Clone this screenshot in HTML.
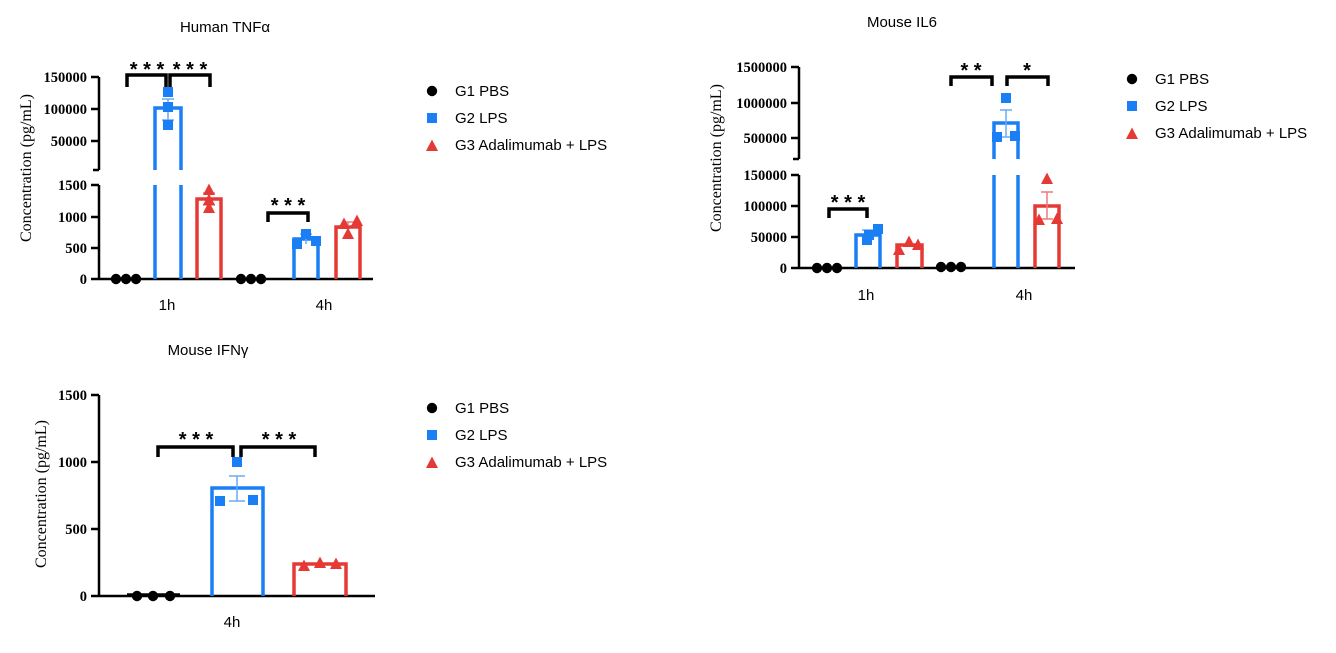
<!DOCTYPE html>
<html><head><meta charset="utf-8"><style>
html,body{margin:0;padding:0;background:#fff;}
.sans{font-family:"Liberation Sans",sans-serif;}
.ser{font-family:"Liberation Serif",serif;font-weight:bold;font-size:14.5px;}
</style></head><body>
<svg width="1336" height="648" viewBox="0 0 1336 648" xmlns="http://www.w3.org/2000/svg">
<defs>
<g id="sq"><rect x="-5" y="-5" width="10" height="10" fill="#1a7ff5"/></g>
<g id="tri"><polygon points="0,-6.5 6,5 -6,5" fill="#e53935"/></g>
<g id="dot"><circle r="5.2" fill="#000"/></g>
</defs>
<g stroke="#000" stroke-width="2.5" fill="none">
<path d="M99 77V170M91 77H99M91 109H99M91 141H99M93 170H99"/>
<path d="M99 185V279M91 185H99M91 217H99M91 248H99M91 279H373"/>
<path d="M799 67V159M791 67H799M791 103H799M791 138H799M793 159H799"/>
<path d="M799 175V268M791 175H799M791 206H799M791 237H799M791 268H1075"/>
<path d="M99 395V596M91 395H99M91 462H99M91 529H99M91 596H375"/>
<g stroke-width="3.5">
<path d="M127 87V75H166V87M170 87V75H210V87M268 222V213H308V222"/>
<path d="M829 218V209H867V218M951 86V77H992V86M1007 86V77H1048V86"/>
<path d="M158 457V447H233V457M241 457V447H315V457"/>
</g>
</g>
<g fill="none" stroke-width="3.5">
<path stroke="#1a7ff5" d="M155 170V108H181V170M155 185V279M181 185V279"/>
<path stroke="#e53935" d="M197 279V199H221V279"/>
<path stroke="#1a7ff5" d="M294 279V239H318V279"/>
<path stroke="#e53935" d="M336 279V227H360V279"/>
<path stroke="#1a7ff5" d="M856 268V235H880V268"/>
<path stroke="#e53935" d="M897 268V245H922V268"/>
<path stroke="#1a7ff5" d="M994 159V123H1018V159M994 175V268M1018 175V268"/>
<path stroke="#e53935" d="M1035 268V206H1059V268"/>
<path stroke="#1a7ff5" d="M212 596V488H263V596"/>
<path stroke="#e53935" d="M294 596V564H346V596"/>
<path stroke="#000" d="M127 595H180"/>
</g>
<g stroke-width="1.5" fill="none">
<path stroke="#6aaaf5" d="M168 99V120M162 99H174M162 120H174"/>
<path stroke="#ef7a78" d="M209 193V205M203 193H215M203 205H215"/>
<path stroke="#6aaaf5" d="M306 234V244M300 234H312"/>
<path stroke="#ef7a78" d="M348 222V233M342 222H354"/>
<path stroke="#6aaaf5" d="M868 230V241M862 230H874"/>
<path stroke="#6aaaf5" d="M1006 110V137M1000 110H1012M1000 137H1012"/>
<path stroke="#ef7a78" d="M1047 192V219M1041 192H1053M1041 219H1053"/>
<path stroke="#6aaaf5" d="M237 476V501M229 476H245M229 501H245"/>
</g>
<use href="#dot" x="116" y="279"/><use href="#dot" x="126" y="279"/><use href="#dot" x="136" y="279"/>
<use href="#sq" x="168" y="92"/><use href="#sq" x="168" y="107"/><use href="#sq" x="168" y="125"/>
<use href="#tri" x="209" y="190"/><use href="#tri" x="209" y="200"/><use href="#tri" x="209" y="208"/>
<use href="#dot" x="241" y="279"/><use href="#dot" x="251" y="279"/><use href="#dot" x="261" y="279"/>
<use href="#sq" x="297" y="244"/><use href="#sq" x="306" y="234"/><use href="#sq" x="316" y="241"/>
<use href="#tri" x="344" y="224"/><use href="#tri" x="348" y="234"/><use href="#tri" x="357" y="221"/>
<use href="#dot" x="817" y="268"/><use href="#dot" x="827" y="268"/><use href="#dot" x="837" y="268"/>
<use href="#sq" x="867" y="240"/><use href="#sq" x="869" y="235"/><use href="#sq" x="878" y="229"/>
<use href="#tri" x="899" y="250"/><use href="#tri" x="909" y="242"/><use href="#tri" x="918" y="245"/>
<use href="#dot" x="941" y="267"/><use href="#dot" x="951" y="267"/><use href="#dot" x="961" y="267"/>
<use href="#sq" x="997" y="137"/><use href="#sq" x="1006" y="98"/><use href="#sq" x="1015" y="136"/>
<use href="#tri" x="1039" y="220"/><use href="#tri" x="1047" y="179"/><use href="#tri" x="1057" y="219"/>
<use href="#dot" x="137" y="596"/><use href="#dot" x="153" y="596"/><use href="#dot" x="170" y="596"/>
<use href="#sq" x="220" y="501"/><use href="#sq" x="237" y="462"/><use href="#sq" x="253" y="500"/>
<use href="#tri" x="304" y="566"/><use href="#tri" x="320" y="563"/><use href="#tri" x="336" y="564"/>
<g class="sans" font-size="20" font-weight="bold" text-anchor="middle" fill="#000">
<text x="147" y="76">* * *</text><text x="190" y="76">* * *</text><text x="288" y="212">* * *</text>
<text x="848" y="209">* * *</text><text x="971" y="77">* *</text><text x="1027" y="77">*</text>
<text x="196" y="446">* * *</text><text x="279" y="446">* * *</text>
</g>
<g class="ser" text-anchor="end" fill="#000">
<text x="87" y="82">150000</text><text x="87" y="114">100000</text><text x="87" y="146">50000</text>
<text x="87" y="190">1500</text><text x="87" y="222">1000</text><text x="87" y="253">500</text><text x="87" y="284">0</text>
<text x="787" y="72">1500000</text><text x="787" y="108">1000000</text><text x="787" y="143">500000</text>
<text x="787" y="180">150000</text><text x="787" y="211">100000</text><text x="787" y="242">50000</text><text x="787" y="273">0</text>
<text x="87" y="400">1500</text><text x="87" y="467">1000</text><text x="87" y="534">500</text><text x="87" y="601">0</text>
</g>
<g style="font-family:'Liberation Serif',serif" font-size="16" fill="#000" text-anchor="middle">
<text transform="translate(31,168) rotate(-90)">Concentration (pg/mL)</text>
<text transform="translate(721,158) rotate(-90)">Concentration (pg/mL)</text>
<text transform="translate(46,494) rotate(-90)">Concentration (pg/mL)</text>
</g>
<g class="sans" font-size="15" fill="#000" text-anchor="middle">
<text x="225" y="32">Human TNFα</text><text x="902" y="27">Mouse IL6</text><text x="208" y="355">Mouse IFNγ</text>
<text x="167" y="310">1h</text><text x="324" y="310">4h</text>
<text x="866" y="300">1h</text><text x="1024" y="300">4h</text>
<text x="232" y="627">4h</text>
</g>
<g class="sans" font-size="15" fill="#000">
<use href="#dot" x="432" y="91"/><text x="455" y="96">G1 PBS</text>
<use href="#sq" x="432" y="118"/><text x="455" y="123">G2 LPS</text>
<use href="#tri" x="432" y="146"/><text x="455" y="150">G3 Adalimumab + LPS</text>
<use href="#dot" x="1132" y="79"/><text x="1155" y="84">G1 PBS</text>
<use href="#sq" x="1132" y="106"/><text x="1155" y="111">G2 LPS</text>
<use href="#tri" x="1132" y="134"/><text x="1155" y="138">G3 Adalimumab + LPS</text>
<use href="#dot" x="432" y="408"/><text x="455" y="413">G1 PBS</text>
<use href="#sq" x="432" y="435"/><text x="455" y="440">G2 LPS</text>
<use href="#tri" x="432" y="463"/><text x="455" y="467">G3 Adalimumab + LPS</text>
</g>
</svg>
</body></html>
